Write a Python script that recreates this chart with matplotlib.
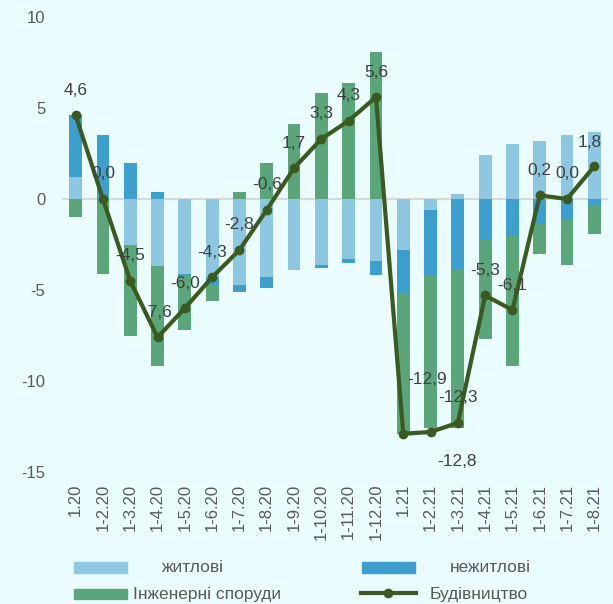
import numpy as np
import matplotlib
matplotlib.use('Agg')
import matplotlib.pyplot as plt
from matplotlib.patches import Rectangle
from matplotlib.lines import Line2D

plt.rcParams['font.family'] = ['Liberation Sans', 'DejaVu Sans']
plt.rcParams['axes.unicode_minus'] = False

months = ['1.20', '1-2.20', '1-3.20', '1-4.20', '1-5.20', '1-6.20', '1-7.20', '1-8.20',
          '1-9.20', '1-10.20', '1-11.20', '1-12.20', '1.21', '1-2.21', '1-3.21', '1-4.21',
          '1-5.21', '1-6.21', '1-7.21', '1-8.21']
zhytlovi = [1.2, 0.0, -2.5, -3.7, -4.1, -4.3, -4.7, -4.3, -3.9, -3.6, -3.3, -3.4,
            -2.8, -0.6, 0.3, 2.4, 3.0, 3.2, 3.5, 3.7]
nezhytlovi = [3.4, 3.5, 2.0, 0.4, -0.1, -0.4, -0.4, -0.6, 0.0, -0.2, -0.2, -0.8,
              -2.4, -3.6, -3.9, -2.2, -2.0, -1.4, -1.1, -0.4]
inzhenerni = [-1.0, -4.1, -5.0, -5.5, -3.0, -0.9, 0.4, 2.0, 4.1, 5.8, 6.4, 8.1,
              -7.7, -8.4, -8.7, -5.5, -7.2, -1.6, -2.5, -1.5]
budivnytstvo = [4.6, 0.0, -4.5, -7.6, -6.0, -4.3, -2.8, -0.6, 1.7, 3.3, 4.3, 5.6,
                -12.9, -12.8, -12.3, -5.3, -6.1, 0.2, 0.0, 1.8]

W, H = 613, 604
BG = '#EAFCFD'
C_LIGHT = '#8EC7E1'
C_BLUE = '#3D9FCD'
C_GREEN = '#5AA67A'
C_LINE = '#3B5A1F'
TXT = '#595959'

fig = plt.figure(figsize=(W / 100, H / 100), dpi=100, facecolor=BG)
ax = fig.add_axes([62 / W, 1 - 472 / H, (608 - 62) / W, (472 - 17) / H], facecolor=BG)

x = np.arange(len(months))
ax.axhline(0, color='#D9D9D9', lw=1.5, zorder=1)

# stacked bars: positives go up from zero, negatives go down
pos_base = np.zeros(len(months))
neg_base = np.zeros(len(months))
for vals, color in [(zhytlovi, C_LIGHT), (nezhytlovi, C_BLUE), (inzhenerni, C_GREEN)]:
    v = np.array(vals)
    bottom = np.where(v >= 0, pos_base, neg_base)
    ax.bar(x, v, bottom=bottom, width=0.47, color=color, zorder=2)
    pos_base += np.clip(v, 0, None)
    neg_base += np.clip(v, None, 0)

ax.plot(x, budivnytstvo, color=C_LINE, lw=3, marker='o', ms=6, zorder=4)

# label offsets in pixels (most sit just above the point)
offsets = {12: (24, 54), 13: (26, -30), 19: (-5, 24)}
for i, v in enumerate(budivnytstvo):
    dx, dy = offsets.get(i, (0, 25))
    ax.annotate(f'{v:.1f}'.replace('.', ','), (x[i], v), xytext=(dx, dy),
                textcoords='offset pixels', ha='center', va='center',
                fontsize=12.5, color='#404040', zorder=5)

ax.set_xlim(-0.5, len(months) - 0.5)
ax.set_ylim(-15, 10)
ax.set_yticks([-15, -10, -5, 0, 5, 10])
ax.set_xticks(x)
ax.set_xticklabels(months, rotation=90)
ax.tick_params(axis='y', length=0, pad=12, labelsize=12, labelcolor=TXT)
ax.tick_params(axis='x', length=0, pad=8.5, labelsize=12, labelcolor=TXT)
for s in ax.spines.values():
    s.set_visible(False)


def fx(px):
    return px / W


def fy(py):
    return 1 - py / H


# legend drawn by hand to match the layout
fig.add_artist(Rectangle((fx(74), fy(573)), 53 / W, 11 / H, transform=fig.transFigure,
                         color=C_LIGHT))
fig.add_artist(Rectangle((fx(74), fy(599)), 53 / W, 10 / H, transform=fig.transFigure,
                         color=C_GREEN))
fig.add_artist(Rectangle((fx(362), fy(573)), 53 / W, 11 / H, transform=fig.transFigure,
                         color=C_BLUE))
fig.add_artist(Line2D([fx(361), fx(416)], [fy(593), fy(593)], transform=fig.transFigure,
                      color=C_LINE, lw=3))
fig.add_artist(Line2D([fx(388)], [fy(593)], transform=fig.transFigure,
                      color=C_LINE, marker='o', ms=6))
for tx, ty, s in [(162, 567, 'житлові'), (133, 594, 'Інженерні споруди'),
                  (450, 567, 'нежитлові'), (430, 594, 'Будівництво')]:
    fig.text(fx(tx), fy(ty), s, ha='left', va='center', fontsize=12.5, color=TXT)

fig.savefig('out.png', dpi=100, facecolor=BG)
